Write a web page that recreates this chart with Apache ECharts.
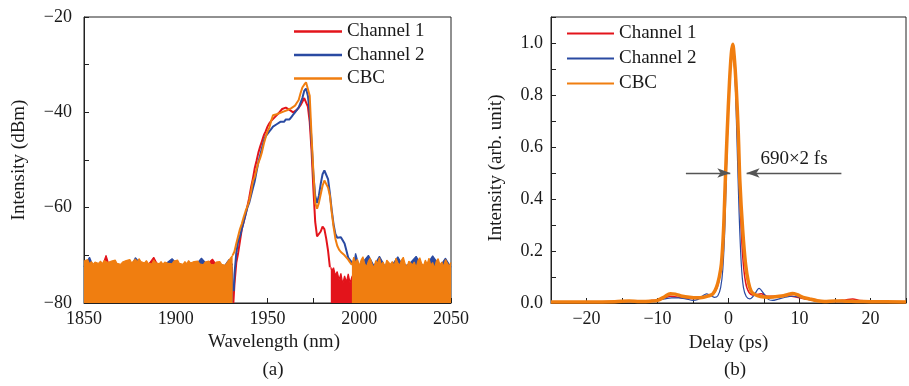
<!DOCTYPE html>
<html>
<head>
<meta charset="utf-8">
<script src="https://cdn.jsdelivr.net/npm/echarts@6/dist/echarts.min.js"></script>
<style>html,body{margin:0;padding:0;background:#fff;}#c{width:909px;height:386px;}</style>
</head>
<body>
<div id="c"></div>
<script>
// ---------- Panel (a): spectra, [wavelength nm, dBm] ----------
const cbcFloorLeft = [[1850,-71.2],[1851,-71.6],[1852,-70.9],[1853,-71.8],[1854,-71.3],[1855,-71.9],[1856,-71.4],[1857,-71.0],[1858,-71.7],[1859,-71.2],[1860,-71.8],[1861,-71.1],[1862,-70.7],[1863,-71.5],[1864,-71.9],[1865,-71.2],[1866,-71.6],[1867,-71.0],[1868,-71.7],[1869,-71.3],[1870,-71.9],[1871,-71.4],[1872,-71.8],[1873,-71.1],[1874,-71.5],[1875,-70.9],[1876,-71.6],[1877,-71.2],[1878,-70.8],[1879,-71.4],[1880,-70.7],[1881,-71.3],[1882,-71.0],[1883,-71.6],[1884,-71.1],[1885,-71.7],[1886,-71.3],[1887,-71.8],[1888,-71.0],[1889,-71.5],[1890,-71.2],[1891,-71.8],[1892,-71.3],[1893,-71.9],[1894,-71.4],[1895,-71.1],[1896,-71.7],[1897,-71.3],[1898,-71.8],[1899,-71.2],[1900,-71.6],[1901,-71.0],[1902,-71.7],[1903,-71.4],[1904,-71.9],[1905,-71.3],[1906,-71.8],[1907,-71.1],[1908,-71.6],[1909,-71.9],[1910,-71.3],[1911,-71.7],[1912,-71.2],[1913,-71.8],[1914,-71.5],[1915,-72.0],[1916,-71.4],[1917,-71.8],[1918,-71.2],[1919,-71.9],[1920,-71.5],[1921,-72.0],[1922,-71.4],[1923,-71.8],[1924,-71.3],[1925,-71.9],[1926,-71.6],[1927,-72.1],[1928,-71.5],[1929,-71.0],[1930,-70.5],[1931,-70.0]];
const cbcFloorRight = [[1996,-72.0],[1997,-70.4],[1998,-71.6],[1999,-70.8],[2000,-72.2],[2001,-71.0],[2002,-70.3],[2003,-71.8],[2004,-72.4],[2005,-71.2],[2006,-70.6],[2007,-71.9],[2008,-72.6],[2009,-71.1],[2010,-71.7],[2011,-70.5],[2012,-72.0],[2013,-71.4],[2014,-72.5],[2015,-71.0],[2016,-70.7],[2017,-71.9],[2018,-71.3],[2019,-72.3],[2020,-70.6],[2021,-71.5],[2022,-72.1],[2023,-71.0],[2024,-70.4],[2025,-71.8],[2026,-72.5],[2027,-71.2],[2028,-70.8],[2029,-72.0],[2030,-71.4],[2031,-72.6],[2032,-71.1],[2033,-70.5],[2034,-71.7],[2035,-72.2],[2036,-71.0],[2037,-71.8],[2038,-70.6],[2039,-72.1],[2040,-71.5],[2041,-72.7],[2042,-71.2],[2043,-70.7],[2044,-72.0],[2045,-71.4],[2046,-72.4],[2047,-70.9],[2048,-71.6],[2049,-72.3],[2050,-71.5]];
const cbcSignal = [[1931,-70.0],[1932,-69.2],[1933,-67.5],[1934,-66.0],[1935,-64.5],[1936,-63.4],[1937,-62.0],[1938,-60.8],[1939,-59.8],[1940,-58.6],[1941,-56.8],[1942,-54.5],[1943,-53.6],[1944,-52.0],[1945,-50.6],[1946,-49.6],[1947,-48.3],[1948,-46.6],[1949,-45.2],[1950,-44.0],[1951,-43.2],[1952,-41.8],[1953,-40.6],[1954,-40.9],[1955,-40.4],[1956,-40.7],[1957,-40.1],[1958,-40.3],[1959,-39.8],[1960,-40.0],[1961,-39.5],[1962,-39.7],[1963,-39.1],[1964,-38.8],[1965,-38.6],[1966,-38.0],[1967,-37.4],[1968,-36.0],[1969,-34.8],[1970,-34.2],[1971,-33.7],[1972,-33.8],[1973,-36.5],[1974,-45.0],[1975,-52.5],[1976,-59.0],[1977,-60.2],[1978,-59.0],[1979,-57.2],[1980,-55.4],[1981,-54.3],[1982,-54.6],[1983,-55.8],[1984,-57.5],[1985,-61.0],[1986,-64.0],[1987,-66.5],[1988,-68.0],[1989,-68.8],[1990,-69.3],[1991,-69.6],[1992,-70.0],[1993,-70.4],[1994,-70.9],[1995,-71.5],[1996,-72.0]];

const ch2FloorLeft = [[1850,-72.4],[1851,-72.5],[1853,-70.4],[1855,-72.3],[1858,-72.4],[1861,-72.0],[1864,-72.2],[1868,-71.9],[1872,-72.5],[1876,-72.1],[1878,-70.5],[1882,-72.3],[1886,-72.0],[1890,-72.4],[1894,-71.9],[1898,-70.7],[1902,-72.3],[1906,-72.0],[1910,-72.4],[1914,-70.6],[1918,-72.3],[1922,-72.1],[1926,-72.5],[1929,-70.9],[1931,-72.0]];
const ch2FloorRight = [[1997,-72.0],[1998,-69.6],[2000,-72.3],[2005,-70.0],[2008,-72.2],[2011,-70.2],[2014,-72.3],[2018,-72.0],[2021,-70.3],[2024,-72.3],[2027,-71.9],[2031,-70.2],[2034,-72.2],[2037,-71.9],[2040,-70.1],[2044,-72.3],[2047,-70.6],[2050,-72.5]];
const ch2Signal = [[1931.6,-77.5],[1932,-74.0],[1933,-69.5],[1934,-67.0],[1935,-66.0],[1936,-64.5],[1937,-63.0],[1938,-61.5],[1939,-60.0],[1940,-59.0],[1941,-57.5],[1942,-56.0],[1943,-54.5],[1944,-52.5],[1945,-50.5],[1946,-49.0],[1947,-47.5],[1948,-46.0],[1949,-45.0],[1950,-44.5],[1951,-44.0],[1952,-43.5],[1953,-43.0],[1954,-42.8],[1955,-42.5],[1956,-42.3],[1957,-42.0],[1958,-41.8],[1959,-42.0],[1960,-41.5],[1961,-41.3],[1962,-41.5],[1963,-41.0],[1964,-40.5],[1965,-40.0],[1966,-39.5],[1967,-39.0],[1968,-38.0],[1969,-37.0],[1970,-35.5],[1971,-35.0],[1972,-36.5],[1973,-40.0],[1974,-46.0],[1975,-53.0],[1976,-57.5],[1977,-59.0],[1978,-57.5],[1979,-55.0],[1980,-53.0],[1981,-52.2],[1982,-52.5],[1983,-54.0],[1984,-57.0],[1985,-60.5],[1986,-63.5],[1987,-65.5],[1988,-66.3],[1989,-66.0],[1990,-66.2],[1991,-66.5],[1992,-67.5],[1993,-69.0],[1994,-70.5],[1995,-71.0],[1996,-71.5],[1997,-72.0]];

const ch1FloorLeft = [[1850,-72.6],[1853,-72.4],[1857,-72.7],[1860,-72.3],[1862,-70.0],[1864,-72.5],[1869,-72.3],[1874,-72.6],[1879,-72.4],[1884,-72.5],[1888,-70.4],[1891,-72.6],[1896,-72.3],[1901,-72.5],[1906,-72.4],[1911,-72.6],[1916,-72.3],[1920,-70.8],[1923,-72.5],[1927,-72.4],[1931,-72.6]];
const ch1FloorRight = [[1984.5,-72.5],[1985,-73.2],[1986,-72.6],[1987,-74.2],[1988,-73.4],[1989,-75.1],[1990,-73.8],[1991,-76.0],[1992,-74.3],[1993,-75.6],[1994,-73.9],[1995,-75.8],[1996,-74.5],[1998,-73.0],[2002,-72.6],[2008,-72.8],[2015,-72.4],[2022,-72.7],[2030,-72.5],[2038,-72.8],[2045,-72.4],[2050,-72.7]];
const ch1Signal = [[1931.4,-80],[1932,-76.0],[1933,-71.5],[1934,-69.5],[1935,-67.0],[1936,-64.5],[1937,-63.0],[1938,-61.5],[1939,-59.8],[1940,-58.0],[1941,-55.8],[1942,-54.0],[1943,-51.8],[1944,-50.2],[1945,-48.5],[1946,-47.2],[1947,-46.0],[1948,-44.8],[1949,-44.0],[1950,-43.0],[1951,-42.3],[1952,-41.8],[1953,-41.5],[1954,-41.0],[1955,-40.6],[1956,-40.2],[1957,-39.8],[1958,-39.3],[1959,-39.5],[1960,-39.0],[1961,-39.2],[1962,-39.5],[1963,-39.8],[1964,-40.0],[1965,-40.0],[1966,-39.5],[1967,-39.0],[1968,-38.5],[1969,-37.8],[1970,-37.0],[1971,-37.2],[1972,-38.8],[1973,-42.0],[1974,-48.0],[1975,-56.0],[1976,-63.0],[1977,-66.0],[1978,-66.3],[1979,-65.0],[1980,-64.0],[1981,-64.5],[1982,-66.5],[1983,-69.0],[1984,-72.5]];

// ---------- Panel (b): autocorrelation, [delay ps, intensity] ----------
const ch1Trace = [[-25,0.004],[-18,0.005],[-14,0.007],[-12,0.008],[-10,0.012],[-9,0.02],[-8.2,0.026],[-7,0.022],[-6,0.018],[-5,0.017],[-4,0.02],[-3,0.027],[-2.2,0.035],[-1.6,0.06],[-1.2,0.11],[-0.8,0.22],[-0.5,0.38],[-0.2,0.62],[0.2,0.88],[0.5,0.99],[0.8,0.93],[1.1,0.78],[1.4,0.55],[1.7,0.34],[2.0,0.18],[2.4,0.08],[2.9,0.04],[3.6,0.03],[4.6,0.036],[5.5,0.026],[7,0.026],[8.5,0.027],[10,0.02],[11.5,0.013],[13,0.009],[15,0.008],[16.5,0.012],[17.5,0.015],[18.5,0.01],[21,0.006],[25,0.004]];
const ch2Trace = [[-25,0.003],[-20,0.003],[-15,0.004],[-12,0.006],[-10,0.01],[-9,0.016],[-8,0.02],[-7,0.02],[-6,0.016],[-5,0.01],[-4.3,0.014],[-3.6,0.028],[-3.1,0.035],[-2.6,0.03],[-2,0.022],[-1.5,0.028],[-1.1,0.06],[-0.8,0.13],[-0.5,0.3],[-0.2,0.6],[0.1,0.85],[0.4,0.97],[0.6,0.98],[0.9,0.88],[1.2,0.62],[1.5,0.34],[1.8,0.15],[2.1,0.06],[2.5,0.025],[3,0.016],[3.6,0.03],[4.3,0.056],[5,0.035],[5.6,0.014],[6.2,0.01],[7,0.015],[8,0.022],[9,0.026],[10,0.022],[11,0.015],[12,0.009],[14,0.005],[20,0.004],[25,0.003]];
const cbcTrace = [[-25,0.004],[-20,0.004],[-16,0.005],[-14,0.008],[-12.5,0.006],[-11,0.007],[-10,0.01],[-9,0.024],[-8.2,0.036],[-7.5,0.034],[-6.5,0.026],[-5.5,0.022],[-4.5,0.02],[-3.5,0.022],[-2.8,0.027],[-2.2,0.035],[-1.7,0.06],[-1.3,0.1],[-1.0,0.15],[-0.7,0.28],[-0.45,0.47],[-0.18,0.66],[0.14,0.85],[0.4,0.96],[0.6,0.995],[0.8,0.95],[1.05,0.85],[1.37,0.66],[1.6,0.47],[2.0,0.28],[2.4,0.15],[2.8,0.08],[3.2,0.045],[3.7,0.033],[4.5,0.025],[5.5,0.022],[6.5,0.024],[7.5,0.027],[8.3,0.032],[9,0.037],[9.7,0.032],[10.5,0.022],[11.5,0.015],[12.5,0.009],[13.5,0.006],[15,0.008],[16.5,0.007],[18,0.006],[20,0.005],[25,0.004]];

// FWHM annotation (ps, intensity)
const fwhmLeftArrow = [[-6.0,0.5],[0.25,0.5]];
const fwhmRightArrow = [[2.55,0.5],[15.9,0.5]];
const fwhmText = '690×2 fs';

const seriesNames = ['Channel 1','Channel 2','CBC'];

// ---------- styling ----------
const FONT = '"Liberation Serif","Times New Roman",serif';
const RED = '#e3141b', BLUE = '#2a4aa2', ORANGE = '#f07e10';
const TXT = '#1a1a1a';
const minus = s => String(s).replace('-', '\u2212');

function axisCommon(){
  return {
    axisLine:{show:true,onZero:false,lineStyle:{color:'#222',width:1}},
    axisTick:{show:true,inside:true,length:5,lineStyle:{color:'#222'}},
    splitLine:{show:false},
    nameLocation:'middle',
    nameTextStyle:{fontFamily:FONT,fontSize:19,color:TXT},
  };
}

const chart = echarts.init(document.getElementById('c'), null, {renderer:'canvas'});

function floorSeries(name, color, data, z){
  return {name, type:'line', xAxisIndex:0, yAxisIndex:0, data, symbol:'none', z,
    lineStyle:{color, width:1.2}, itemStyle:{color},
    areaStyle:{color, opacity:1, origin:'start'}};
}
function sigSeries(name, color, data, z, w){
  return {name, type:'line', xAxisIndex:0, yAxisIndex:0, data, symbol:'none', z,
    lineStyle:{color, width:w||2}, itemStyle:{color}};
}
function traceSeries(name, color, data, z, w){
  return {name, type:'line', xAxisIndex:1, yAxisIndex:1, data, symbol:'none', z, smooth:0.3,
    lineStyle:{color, width:w}, itemStyle:{color}};
}

const legendData = [
  {name:seriesNames[0], itemStyle:{color:RED}},
  {name:seriesNames[1], itemStyle:{color:BLUE}},
  {name:seriesNames[2], itemStyle:{color:ORANGE}}
];
const legendText = {fontFamily:FONT,fontSize:19,color:TXT,lineHeight:19};

const option = {
  animation:false,
  backgroundColor:'#fff',
  grid:[
    {left:84, right:458, top:17, bottom:83, show:true, borderColor:'#222', borderWidth:1, backgroundColor:'rgba(0,0,0,0)'},
    {left:551, right:-7, top:17, bottom:83, show:true, borderColor:'#222', borderWidth:1, backgroundColor:'rgba(0,0,0,0)'}
  ],
  legend:[
    {data:legendData, orient:'vertical', left:294, top:22, padding:0, itemWidth:48, itemHeight:2.5, itemGap:4.5, icon:'rect',
     selectedMode:false, textStyle:legendText},
    {data:legendData, orient:'vertical', left:567, top:24, padding:0, itemWidth:47, itemHeight:2, itemGap:6, icon:'rect',
     selectedMode:false, textStyle:legendText}
  ],
  xAxis:[
    Object.assign(axisCommon(), {gridIndex:0, type:'value', min:1850, max:2050, interval:25,
      name:'Wavelength (nm)', nameGap:30,
      nameTextStyle:{fontFamily:FONT,fontSize:19,color:TXT,padding:[0,0,0,13]},
      axisLabel:{fontFamily:FONT,fontSize:18,color:TXT,margin:7,
        formatter:v=> (Math.round(v)%50===0 ? String(v) : '')}}),
    Object.assign(axisCommon(), {gridIndex:1, type:'value', min:-25, max:25, interval:5,
      name:'Delay (ps)', nameGap:31,
      axisLabel:{fontFamily:FONT,fontSize:18,color:TXT,margin:7,
        formatter:v=> (Math.round(v)%10===0 ? minus(v) : '')}})
  ],
  yAxis:[
    Object.assign(axisCommon(), {gridIndex:0, type:'value', min:-80, max:-20, interval:10,
      name:'Intensity (dBm)', nameGap:55,
      axisLabel:{fontFamily:FONT,fontSize:18,color:TXT,margin:12,
        formatter:v=> (Math.round(v)%20===0 ? minus(v) : '')}}),
    Object.assign(axisCommon(), {gridIndex:1, type:'value', min:0, max:1.1, interval:0.1,
      name:'Intensity (arb. unit)', nameGap:45,
      nameTextStyle:{fontFamily:FONT,fontSize:19,color:TXT,padding:[0,16,0,0]},
      axisLabel:{fontFamily:FONT,fontSize:18,color:TXT,margin:8,
        formatter:v=> (Math.round(v*10)%2===0 ? v.toFixed(1) : '')}})
  ],
  series:[
    floorSeries(seriesNames[0], RED, ch1FloorLeft, 2),
    floorSeries(seriesNames[0], RED, ch1FloorRight, 2),
    sigSeries(seriesNames[0], RED, ch1Signal, 2),
    floorSeries(seriesNames[1], BLUE, ch2FloorLeft, 3),
    floorSeries(seriesNames[1], BLUE, ch2FloorRight, 3),
    sigSeries(seriesNames[1], BLUE, ch2Signal, 3),
    floorSeries(seriesNames[2], ORANGE, cbcFloorLeft, 4),
    floorSeries(seriesNames[2], ORANGE, cbcFloorRight, 4),
    sigSeries(seriesNames[2], ORANGE, cbcSignal, 4),

    traceSeries(seriesNames[0], RED, ch1Trace, 2, 1.5),
    traceSeries(seriesNames[1], BLUE, ch2Trace, 3, 1.2),
    Object.assign(traceSeries(seriesNames[2], ORANGE, cbcTrace, 4, 3.5), {
      markLine:{silent:true, animation:false, symbolSize:[7,13],
        lineStyle:{color:'#555', width:1.3, type:'solid'},
        label:{show:false},
        data:[
          [{coord:fwhmLeftArrow[0], symbol:'none'}, {coord:fwhmLeftArrow[1], symbol:'arrow'}],
          [{coord:fwhmRightArrow[0], symbol:'arrow',
            label:{show:true, position:'insideMiddleTop', formatter:fwhmText, fontFamily:FONT, fontSize:19, color:TXT, distance:4}},
           {coord:fwhmRightArrow[1], symbol:'none'}]
        ]
      }
    })
  ],
  graphic:[
    {type:'text', x:273, y:370, style:{text:'(a)', font:'19px '+FONT, fill:TXT, align:'center', verticalAlign:'middle', textAlign:'center', textVerticalAlign:'middle'}},
    {type:'text', x:735, y:370, style:{text:'(b)', font:'19px '+FONT, fill:TXT, align:'center', verticalAlign:'middle', textAlign:'center', textVerticalAlign:'middle'}}
  ]
};
chart.setOption(option);
</script>
</body>
</html>
